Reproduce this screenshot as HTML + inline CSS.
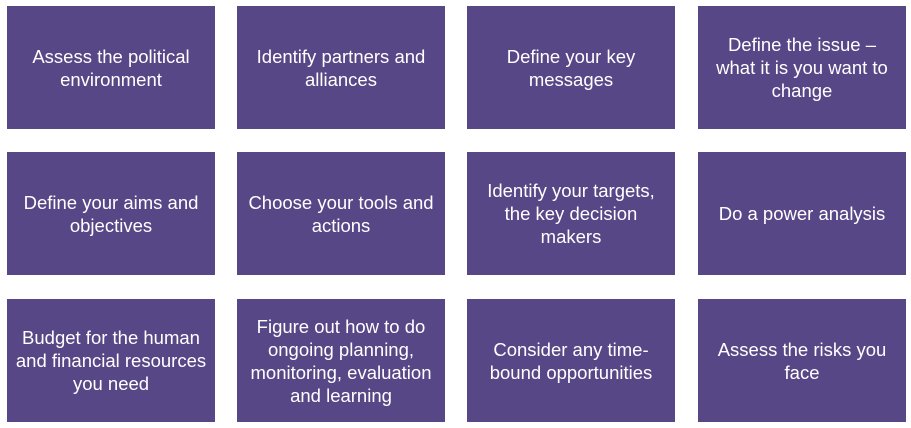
<!DOCTYPE html>
<html><head><style>
body{margin:0;width:911px;height:428px;background:#fff;position:relative;overflow:hidden;font-family:"Liberation Sans",sans-serif;}
.b{position:absolute;width:208px;height:123px;background:#574786;color:#fff;display:flex;align-items:center;justify-content:center;text-align:center;font-size:18.5px;line-height:23px;white-space:nowrap;}
</style></head><body>
<div class="b" style="left:7px;top:6px">Assess the political<br>environment</div>
<div class="b" style="left:237px;top:6px">Identify partners and<br>alliances</div>
<div class="b" style="left:467px;top:6px">Define your key<br>messages</div>
<div class="b" style="left:698px;top:6px">Define the issue –<br>what it is you want to<br>change</div>
<div class="b" style="left:7px;top:152px">Define your aims and<br>objectives</div>
<div class="b" style="left:237px;top:152px">Choose your tools and<br>actions</div>
<div class="b" style="left:467px;top:152px">Identify your targets,<br>the key decision<br>makers</div>
<div class="b" style="left:698px;top:152px">Do a power analysis</div>
<div class="b" style="left:7px;top:299px">Budget for the human<br>and financial resources<br>you need</div>
<div class="b" style="left:237px;top:299px">Figure out how to do<br>ongoing planning,<br>monitoring, evaluation<br>and learning</div>
<div class="b" style="left:467px;top:299px">Consider any time-<br>bound opportunities</div>
<div class="b" style="left:698px;top:299px">Assess the risks you<br>face</div>
</body></html>
